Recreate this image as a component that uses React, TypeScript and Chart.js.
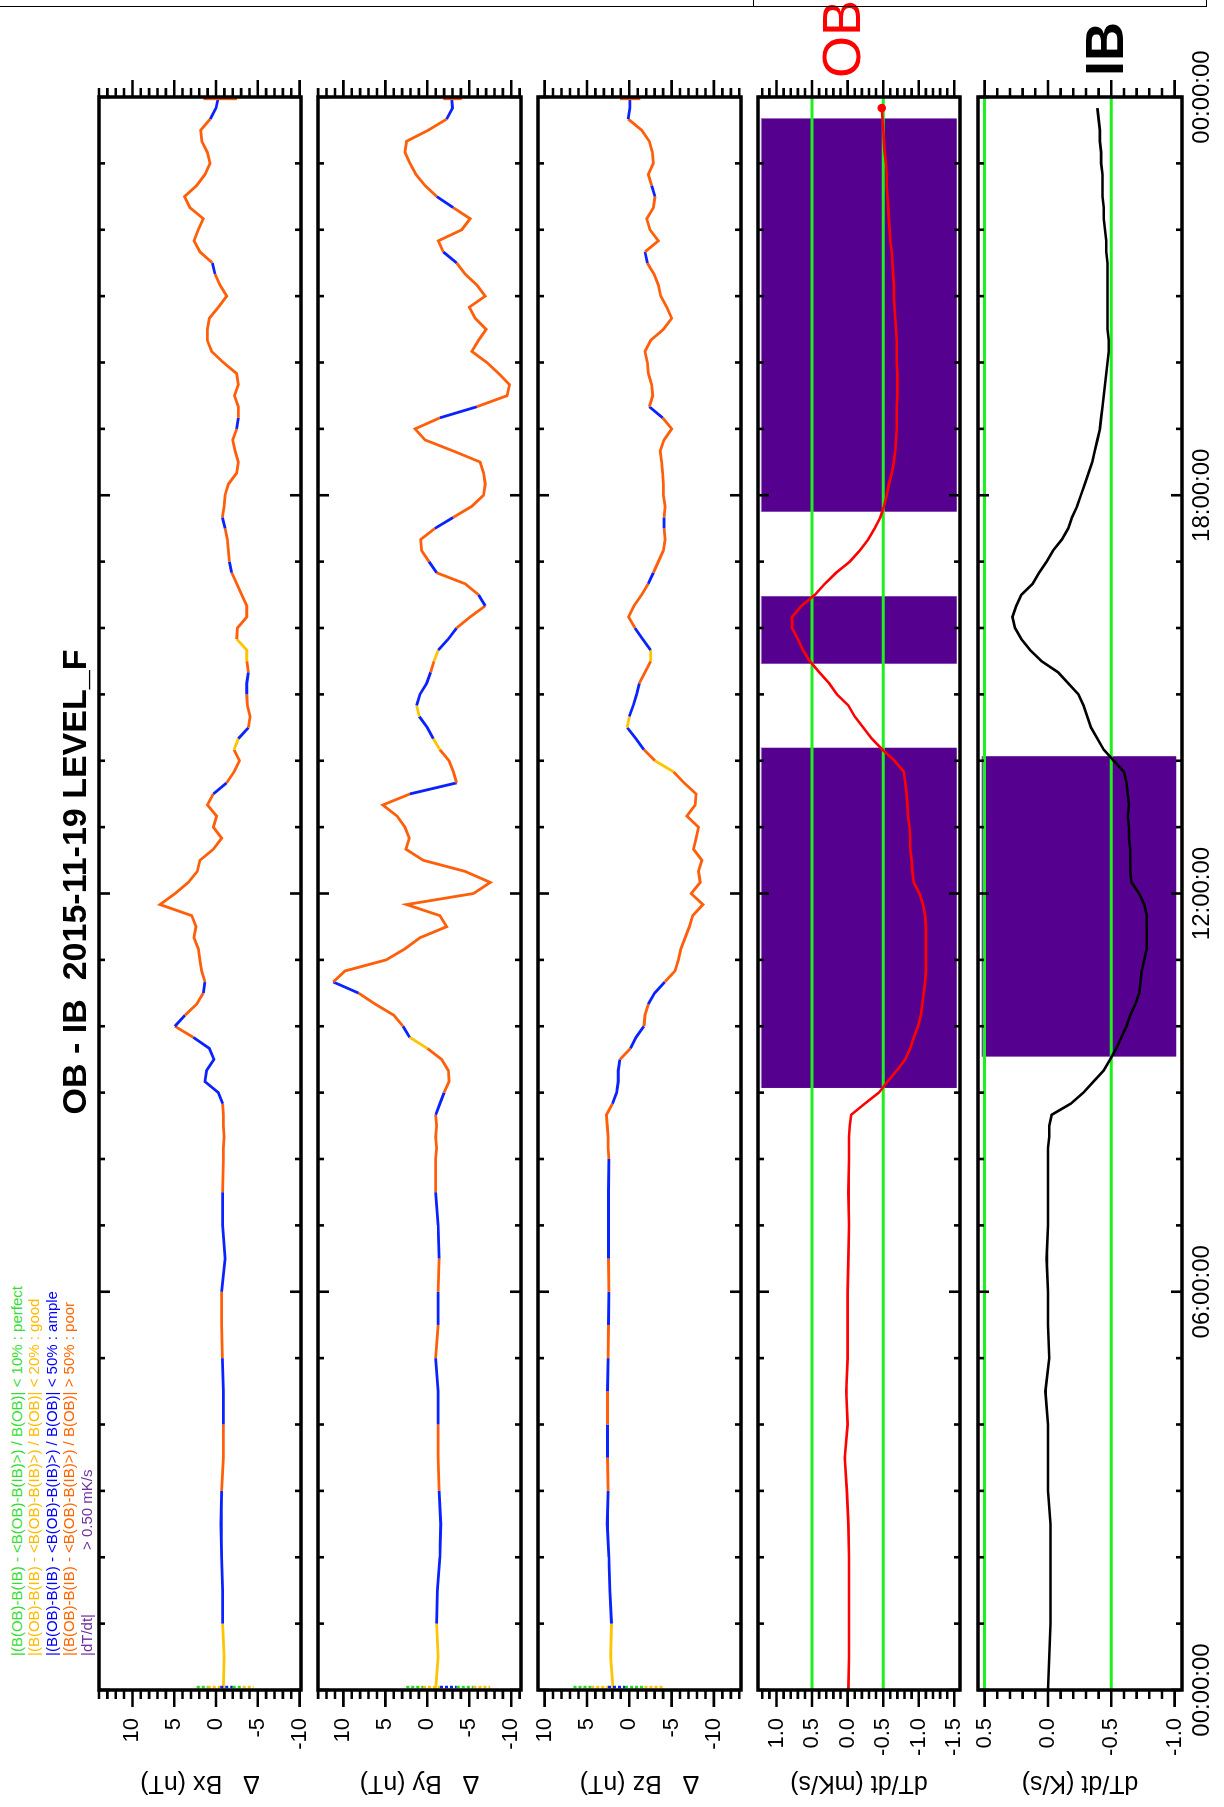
import React, { useEffect, useRef } from "react";
import { Chart, registerables } from "chart.js";
Chart.register(...registerables);

const FONT = "'Liberation Sans', Arial, Helvetica, sans-serif";
const W = 1807; // landscape width (rotated onto the page)
const H = 1224;
const PLOT_LEFT = 117;
const PLOT_RIGHT = 1710;
const PAD = 20;

// ---------------- time grid (hours): 30-min steps to 08:00, then 10-min steps ----------------
const TIMES: number[] = [];
for (let i = 0; i <= 16; i++) TIMES.push(i * 0.5);
for (let i = 1; i <= 96; i++) TIMES.push(8 + i / 6);

const TIME_LABELS = ["00:00:00", "06:00:00", "12:00:00", "18:00:00", "00:00:00"];
const TIME_LABEL_HOURS = [0, 6, 12, 18, 24];

// ---------------- series ----------------
const BX = [
  -0.88, -0.96, -0.8, -0.8, -0.68, -0.6, -0.68, -0.88, -0.88, -0.88, -0.76, -0.68, -0.68, -1.08, -0.8, -0.8, -0.88,
  -0.88, -0.96, -0.88, -0.88, -0.8, -0.28, 1.32, 1.12, 0.24, 0.8, 2.72, 4.92,
  3.72, 2.32, 1.52, 1.32, 1.72, 1.92, 2.12, 2.64, 2.4, 2.9, 6.7, 4.9,
  3.32, 2.24, 1.92, 0.32, -0.68, 0.32, -0.08, 1.04, 0.32, -1.28, -2.16, -2.8,
  -2.16, -2.68, -3.88, -4.08, -3.76, -3.68, -3.68, -3.88, -3.68, -3.68, -2.48, -2.56,
  -3.68, -3.68, -3.08, -2.48, -1.88, -1.6, -1.48, -1.36, -1.08, -0.76, -0.96, -1.08,
  -1.48, -2.48, -2.68, -2.28, -2.0, -2.48, -2.68, -2.68, -2.2, -2.68, -2.48, -0.88,
  0.52, 1.04, 1.04, 0.8, -0.28, -1.28, -0.48, 0.12, 0.44, 1.92, 2.64, 2.12,
  1.52, 3.12, 3.76, 2.32, 1.32, 0.72, 1.04, 1.7, 1.84, 0.7, 0.0, -0.28,
];
const BY = [
  -1.0, -1.3, -1.1, -1.2, -1.5, -1.6, -1.4, -1.3, -1.3, -1.3, -1.0, -1.3, -1.3, -1.4, -1.3, -1.0, -1.0,
  -1.1, -1.0, -1.1, -1.0, -1.5, -2.0, -2.6, -2.5, -1.7, 0.0, 2.1, 2.9,
  4.0, 6.2, 8.2, 11.2, 9.8, 4.9, 2.67, 0.88, -2.3, -1.5, 2.47, -5.5,
  -7.5, -4.5, 0.48, 2.55, 2.15, 2.67, 3.6, 5.3, 2.07, -3.5, -3.1, -2.6,
  -1.5, -0.7, 0.0, 0.96, 1.27, 0.88, 0.08, -0.4, -0.8, -1.3, -2.5, -3.5,
  -5.1, -6.9, -6.1, -4.5, -1.1, -0.2, 0.68, 0.8, -0.9, -3.1, -5.3, -6.7,
  -6.9, -6.7, -6.3, -3.1, 0.28, 1.47, -1.5, -5.9, -9.5, -9.8, -8.5, -7.1,
  -5.3, -6.1, -7.0, -5.7, -5.0, -6.9, -5.9, -4.5, -3.5, -1.9, -1.31, -4.1,
  -5.1, -3.1, -1.12, 0.28, 1.35, 2.07, 2.67, 2.47, -0.12, -2.3, -3.0, -2.9,
];
const BZ = [
  1.9, 2.2, 2.1, 2.3, 2.4, 2.6, 2.5, 2.57, 2.57, 2.57, 2.5, 2.45, 2.4, 2.45, 2.45, 2.45, 2.4,
  2.5, 2.5, 2.6, 2.7, 1.98, 1.5, 1.3, 1.3, 1.1, -0.16, -0.8, -1.74,
  -1.86, -2.25, -3.0, -4.2, -5.4, -5.8, -6.1, -6.6, -7.1, -7.5, -8.7, -7.3,
  -8.38, -8.18, -8.58, -7.59, -7.9, -8.18, -6.8, -7.79, -7.9, -6.48, -5.22, -3.04,
  -1.74, -0.79, 0.24, 0.0, -0.47, -0.87, -1.19, -1.86, -2.53, -2.53, -1.58, -0.67,
  0.08, -0.55, -1.46, -2.25, -2.85, -3.44, -4.03, -4.23, -4.11, -4.11, -4.23, -4.03,
  -4.03, -3.95, -3.83, -3.64, -4.11, -5.02, -3.95, -2.37, -2.77, -2.65, -2.25, -2.13,
  -1.86, -2.53, -4.03, -5.02, -4.43, -3.72, -3.44, -2.92, -2.13, -1.86, -3.44, -2.45,
  -2.06, -2.85, -3.04, -2.65, -2.25, -2.85, -2.73, -2.37, -1.46, 0.12, -0.08, -0.08,
];
const OB_DTDT = [
  -0.01, -0.02, -0.02, -0.02, -0.02, -0.01, 0.01, 0.04, 0.0, 0.02, 0.0, 0.0, 0.0, -0.01, -0.02, -0.01, -0.02,
  -0.02, -0.02, -0.03, -0.05, -0.24, -0.44, -0.56, -0.69, -0.81, -0.88, -0.93, -0.99,
  -1.03, -1.05, -1.07, -1.09, -1.1, -1.1, -1.1, -1.1, -1.1, -1.09, -1.06, -1.01,
  -0.93, -0.91, -0.9, -0.88, -0.88, -0.87, -0.85, -0.84, -0.83, -0.81, -0.79, -0.66,
  -0.49, -0.34, -0.22, -0.1, -0.01, 0.15, 0.26, 0.4, 0.53, 0.63, 0.7, 0.78,
  0.78, 0.65, 0.46, 0.32, 0.16, -0.03, -0.17, -0.29, -0.38, -0.46, -0.51, -0.55,
  -0.58, -0.62, -0.65, -0.67, -0.68, -0.69, -0.69, -0.69, -0.7, -0.7, -0.7, -0.69,
  -0.69, -0.69, -0.68, -0.67, -0.66, -0.65, -0.65, -0.64, -0.63, -0.62, -0.6, -0.59,
  -0.58, -0.57, -0.56, -0.55, -0.55, -0.54, -0.52, -0.51, -0.5, -0.49, -0.48, null,
];
const IB_DTDT = [
  0.0, -0.01, -0.02, -0.02, -0.02, -0.02, 0.0, 0.0, 0.0, 0.02, -0.01, 0.0, 0.0, 0.01, 0.0, 0.0, 0.0,
  0.0, -0.01, -0.01, -0.03, -0.18, -0.28, -0.36, -0.44, -0.49, -0.54, -0.58, -0.62,
  -0.65, -0.69, -0.72, -0.73, -0.74, -0.76, -0.78, -0.78, -0.78, -0.78, -0.76, -0.72,
  -0.66, -0.65, -0.65, -0.65, -0.64, -0.64, -0.63, -0.64, -0.63, -0.62, -0.6, -0.52,
  -0.44, -0.39, -0.34, -0.31, -0.28, -0.24, -0.16, -0.08, 0.05, 0.14, 0.21, 0.26,
  0.28, 0.25, 0.21, 0.12, 0.07, 0.01, -0.04, -0.11, -0.16, -0.19, -0.23, -0.26,
  -0.29, -0.32, -0.35, -0.37, -0.39, -0.41, -0.42, -0.43, -0.44, -0.45, -0.46, -0.47,
  -0.48, -0.48, -0.47, -0.47, -0.47, -0.47, -0.47, -0.47, -0.47, -0.46, -0.46, -0.45,
  -0.44, -0.44, -0.43, -0.43, -0.43, -0.42, -0.42, -0.41, -0.41, -0.4, -0.39, null,
];

// spread of first / last samples at the day edges
const BX_START = [2.3, 1.0, -0.5, -2.0, -3.2, -4.5];
const BY_START = [2.5, 0.5, -1.5, -3.5, -5.5, -7.5];
const BZ_START = [6.6, 4.5, 2.5, 0.5, -1.8, -4.0];
const START_Q = ["g", "y", "b", "g", "y"];
const BX_END = [1.5, -2.5];
const BY_END = [-1.9, -4.1];
const BZ_END = [1.1, -1.3];

// quality intervals [start h, end h, code]; everything else is "poor" (orange)
const BX_Q: [number, number, string][] = [
  [0, 1, "y"], [1, 3, "b"], [4, 5, "b"], [6, 7, "b"], [7, 7.17, "y"], [7.17, 7.5, "b"], [8.83, 9.83, "b"],
  [10, 10.17, "b"], [10.5, 10.67, "b"], [13.5, 13.67, "b"], [14.17, 14.33, "y"], [14.33, 14.5, "b"],
  [15, 15.33, "b"], [15.5, 15.83, "y"], [16.83, 17, "b"], [17.5, 17.67, "b"], [19, 19.17, "b"],
  [21.33, 21.5, "b"], [23.67, 24, "b"],
];
const BY_Q: [number, number, string][] = [
  [0.25, 0.83, "y"], [0.83, 2.3, "b"], [2.7, 3, "b"], [4, 5, "b"], [5.5, 6, "b"], [6.5, 7, "b"], [7, 7.17, "y"],
  [7.17, 7.5, "b"], [8.67, 9, "b"], [9.67, 9.83, "y"], [9.83, 10, "b"], [10.5, 10.67, "b"], [13.5, 13.67, "b"],
  [14.17, 14.33, "y"], [14.33, 14.67, "b"], [14.67, 14.83, "y"], [14.83, 15.33, "b"], [15.5, 15.67, "y"],
  [15.67, 16, "b"], [16.33, 16.5, "b"], [16.83, 17, "b"], [17.5, 17.67, "b"], [19.17, 19.33, "b"],
  [21.5, 21.67, "b"], [22.33, 22.5, "b"], [23.67, 24, "b"],
];
const BZ_Q: [number, number, string][] = [
  [0.25, 0.83, "y"], [0.83, 2.4, "b"], [2.7, 3, "b"], [3.5, 4, "b"], [4.5, 5, "b"], [5.5, 6, "b"], [6.5, 7, "b"],
  [7, 7.17, "y"], [7.17, 8, "b"], [8.83, 9.5, "b"], [9.67, 10, "b"], [10.33, 10.67, "b"], [13.83, 14, "y"],
  [14.17, 14.5, "b"], [14.5, 14.67, "y"], [14.67, 15.17, "b"], [15.5, 15.67, "y"], [15.67, 16, "b"],
  [16.67, 16.83, "b"], [17.5, 17.67, "b"], [19.17, 19.33, "b"], [21.5, 21.67, "b"], [22.5, 22.67, "b"],
  [23.67, 24, "b"],
];

// |dT/dt| > threshold intervals (hours)
const OB_ALARM = [[9.07, 14.2], [15.46, 16.48], [17.75, 23.68]];
const IB_ALARM = [[9.54, 14.07]];
const OB_THRESH = [0.5, -0.5];
const IB_THRESH = [0.5, -0.5];

const QCOL: Record<string, string> = { g: "#22dd22", y: "#ffc400", b: "#0a22ff", o: "#ff5f0a" };
const PURPLE = "#560090";

const qualityAt = (q: [number, number, string][], t: number) => {
  for (const [a, b, c] of q) if (t >= a && t < b) return c;
  return "o";
};

type Spec = {
  key: string;
  top: number;
  height: number;
  min: number;
  max: number;
  major: number[];
  labels: string[];
  minor: number[];
  title: string;
  showTime: boolean;
  datasets: any[];
};

const range = (a: number, b: number, step: number) => {
  const out: number[] = [];
  const n = Math.round((b - a) / step);
  for (let i = 0; i <= n; i++) out.push(Math.round((a + i * step) * 1000) / 1000);
  return out;
};

const pts = (vals: (number | null)[]) => TIMES.map((t, i) => ({ x: t, y: vals[i] }));

const bDatasets = (vals: number[], q: [number, number, string][], start: number[], end: number[]) => [
  {
    data: pts(vals),
    borderWidth: 2.8,
    borderColor: QCOL.o,
    pointRadius: 0,
    order: 1,
    segment: {
      borderColor: (c: any) => QCOL[qualityAt(q, (c.p0.parsed.x + c.p1.parsed.x) / 2)],
    },
  },
  {
    data: start.map((v) => ({ x: 0.045, y: v })),
    borderWidth: 2.5,
    borderColor: QCOL.y,
    borderDash: [3, 2],
    pointRadius: 0,
    order: 0,
    segment: { borderColor: (c: any) => QCOL[START_Q[c.p0DataIndex % START_Q.length]] },
  },
  {
    data: end.map((v) => ({ x: 23.975, y: v })),
    borderWidth: 3,
    borderColor: QCOL.o,
    pointRadius: 0,
    order: 0,
  },
];

const alarmDatasets = (alarm: number[][], top: number, bottom: number) =>
  alarm.map(([a, b]) => ({
    data: [{ x: a, y: top }, { x: b, y: top }],
    borderWidth: 1,
    borderColor: "#9a78c8",
    backgroundColor: PURPLE,
    fill: { value: bottom },
    pointRadius: 0,
    order: 6,
  }));

const threshDatasets = (th: number[]) =>
  th.map((v) => ({
    data: [{ x: 0, y: v }, { x: 24, y: v }],
    borderWidth: 3,
    borderColor: "#1ef01e",
    pointRadius: 0,
    order: 3,
  }));

const lastIdx = (arr: (number | null)[]) => {
  for (let i = arr.length - 1; i >= 0; i--) if (arr[i] !== null) return i;
  return -1;
};

const B_MAJOR = [10, 5, 0, -5, -10];
const B_LABELS = ["10", "5", "0", "-5", "-10"];

const SPECS: Spec[] = [
  {
    key: "bx", top: 99, height: 202, min: -10.17, max: 14.0,
    major: B_MAJOR, labels: B_LABELS, minor: range(-10, 14, 1),
    title: "\u0394   Bx (nT)", showTime: false,
    datasets: bDatasets(BX, BX_Q, BX_START, BX_END),
  },
  {
    key: "by", top: 318, height: 203, min: -11.16, max: 13.02,
    major: B_MAJOR, labels: B_LABELS, minor: range(-11, 13, 1),
    title: "\u0394   By (nT)", showTime: false,
    datasets: bDatasets(BY, BY_Q, BY_START, BY_END),
  },
  {
    key: "bz", top: 538, height: 203, min: -13.2, max: 10.78,
    major: B_MAJOR, labels: B_LABELS, minor: range(-13, 10, 1),
    title: "\u0394   Bz (nT)", showTime: false,
    datasets: bDatasets(BZ, BZ_Q, BZ_START, BZ_END),
  },
  {
    key: "ob", top: 758, height: 202, min: -1.58, max: 1.26,
    major: [1.0, 0.5, 0.0, -0.5, -1.0, -1.5], labels: ["1.0", "0.5", "0.0", "-0.5", "-1.0", "-1.5"],
    minor: range(-1.5, 1.2, 0.1),
    title: "dT/dt (mK/s)", showTime: false,
    datasets: [
      {
        data: pts(OB_DTDT),
        borderWidth: 2.6,
        borderColor: "#ff0000",
        backgroundColor: "#ff0000",
        pointRadius: (c: any) => (c.dataIndex === lastIdx(OB_DTDT) ? 3 : 0),
        order: 1,
      },
      ...threshDatasets(OB_THRESH),
      ...alarmDatasets(OB_ALARM, 1.213, -1.534),
    ],
  },
  {
    key: "ib", top: 978, height: 204, min: -1.058, max: 0.552,
    major: [0.5, 0.0, -0.5, -1.0], labels: ["0.5", "0.0", "-0.5", "-1.0"],
    minor: range(-1.0, 0.5, 0.1),
    title: "dT/dt (K/s)", showTime: true,
    datasets: [
      {
        data: pts(IB_DTDT),
        borderWidth: 2.6,
        borderColor: "#000000",
        pointRadius: 0,
        order: 1,
      },
      ...threshDatasets(IB_THRESH),
      ...alarmDatasets(IB_ALARM, 0.52, -1.013),
    ],
  },
];

const XAXIS_H = 44;

const framePlugin = (p: Spec) => ({
  id: "frame_" + p.key,
  afterDatasetsDraw(chart: any) {
    const { ctx, chartArea: a, scales } = chart;
    const xs = scales.x;
    const ys = scales.y;
    ctx.save();
    ctx.strokeStyle = "#000";
    ctx.lineCap = "butt";
    ctx.lineWidth = 2.6;
    for (let h = 0; h <= 24; h++) {
      const px = xs.getPixelForValue(h);
      const len = h % 6 === 0 ? 11 : 6;
      ctx.beginPath();
      ctx.moveTo(px, a.top);
      ctx.lineTo(px, a.top + len);
      ctx.moveTo(px, a.bottom);
      ctx.lineTo(px, a.bottom - len);
      ctx.stroke();
    }
    for (const v of p.minor) {
      const py = ys.getPixelForValue(v);
      const major = p.major.some((m) => Math.abs(m - v) < 1e-6);
      const len = major ? 17 : 9;
      ctx.beginPath();
      ctx.moveTo(a.left, py);
      ctx.lineTo(a.left - len, py);
      ctx.moveTo(a.right, py);
      ctx.lineTo(a.right + len, py);
      ctx.stroke();
    }
    ctx.lineWidth = 3.5;
    ctx.strokeRect(a.left, a.top, a.right - a.left, a.bottom - a.top);
    ctx.restore();
  },
});

function Panel({ p }: { p: Spec }) {
  const ref = useRef<HTMLCanvasElement>(null);
  const ch = p.height + 2 * PAD + (p.showTime ? XAXIS_H : 0);
  useEffect(() => {
    if (!ref.current) return;
    const chart = new Chart(ref.current, {
      type: "line",
      data: { datasets: p.datasets },
      options: {
        animation: false,
        responsive: false,
        maintainAspectRatio: false,
        devicePixelRatio: 1,
        layout: { padding: { left: 0, right: W - PLOT_RIGHT, top: PAD, bottom: PAD } },
        plugins: { legend: { display: false }, tooltip: { enabled: false }, title: { display: false } },
        elements: { line: { tension: 0 }, point: { radius: 0 } },
        scales: {
          x: {
            type: "linear",
            min: 0,
            max: 24,
            display: p.showTime,
            position: "bottom",
            grid: { display: false, drawTicks: false },
            border: { display: false },
            afterBuildTicks: (s: any) => {
              s.ticks = TIME_LABEL_HOURS.map((v) => ({ value: v }));
            },
            afterFit: (s: any) => {
              s.height = p.showTime ? XAXIS_H : 0;
              s.paddingLeft = 0;
              s.paddingRight = 0;
              s.paddingTop = 0;
              s.paddingBottom = 0;
            },
            ticks: {
              autoSkip: false,
              maxRotation: 0,
              padding: 6,
              color: "#000",
              font: { family: FONT, size: 24 },
              callback: (v: any) => TIME_LABELS[TIME_LABEL_HOURS.indexOf(Number(v))],
            },
          },
          y: {
            type: "linear",
            min: p.min,
            max: p.max,
            grid: { display: false, drawTicks: false },
            border: { display: false },
            afterBuildTicks: (s: any) => {
              s.ticks = p.major.map((v) => ({ value: v }));
            },
            afterFit: (s: any) => {
              s.width = PLOT_LEFT;
              s.paddingTop = 0;
              s.paddingBottom = 0;
              s.paddingLeft = 0;
              s.paddingRight = 0;
            },
            ticks: {
              autoSkip: false,
              padding: 28,
              color: "#000",
              font: { family: FONT, size: 22 },
              callback: (v: any) => p.labels[p.major.findIndex((m) => Math.abs(m - Number(v)) < 1e-6)],
            },
            title: {
              display: true,
              text: p.title,
              color: "#000",
              font: { family: FONT, size: 25 },
              padding: { top: 9, bottom: 0 },
            },
          },
        },
      },
      plugins: [framePlugin(p)],
    } as any);
    return () => chart.destroy();
  }, []);
  return (
    <canvas
      ref={ref}
      width={W}
      height={ch}
      style={{ position: "absolute", left: 0, top: p.top - PAD, width: W, height: ch }}
    />
  );
}

const LEGEND = [
  { text: "|(B(OB)-B(IB) - <B(OB)-B(IB)>) / B(OB)| < 10% : perfect", color: "#33dd33" },
  { text: "|(B(OB)-B(IB) - <B(OB)-B(IB)>) / B(OB)| < 20% : good", color: "#ffbb00" },
  { text: "|(B(OB)-B(IB) - <B(OB)-B(IB)>) / B(OB)| < 50% : ample", color: "#0000ff" },
  { text: "|(B(OB)-B(IB) - <B(OB)-B(IB)>) / B(OB)| > 50% : poor", color: "#ff6600" },
];
const LEGEND_TOPS = [9, 26, 44, 61, 79];

export default function App() {
  return (
    <div
      style={{
        position: "absolute",
        left: 0,
        top: 0,
        width: 1224,
        height: 1807,
        overflow: "hidden",
        background: "#fff",
      }}
    >
      <div
        style={{
          position: "absolute",
          left: 0,
          top: 0,
          width: W,
          height: H,
          transformOrigin: "0 0",
          transform: "translateY(1807px) rotate(-90deg)",
          fontFamily: FONT,
        }}
      >
        {SPECS.map((p) => (
          <Panel key={p.key} p={p} />
        ))}
        {LEGEND.map((l, i) => (
          <div
            key={i}
            style={{
              position: "absolute",
              left: 151,
              top: LEGEND_TOPS[i],
              fontSize: 15,
              lineHeight: "15px",
              color: l.color,
              whiteSpace: "pre",
            }}
          >
            {l.text}
          </div>
        ))}
        <div style={{ position: "absolute", left: 151, top: LEGEND_TOPS[4], fontSize: 15, lineHeight: "15px", color: "#7030a0", whiteSpace: "pre" }}>
          |dT/dt|
        </div>
        <div style={{ position: "absolute", left: 257, top: LEGEND_TOPS[4], fontSize: 15, lineHeight: "15px", color: "#7030a0", whiteSpace: "pre" }}>
          {"> 0.50 mK/s"}
        </div>
        <div
          style={{
            position: "absolute",
            left: 625,
            top: 57,
            width: 600,
            textAlign: "center",
            fontSize: 34,
            lineHeight: "34px",
            fontWeight: "bold",
            whiteSpace: "pre",
            color: "#000",
          }}
        >
          {"OB - IB  2015-11-19 LEVEL_F"}
        </div>
        <div style={{ position: "absolute", left: 1729, top: 814, fontSize: 54, lineHeight: "54px", color: "#ff0000" }}>OB</div>
        <div style={{ position: "absolute", left: 1731, top: 1077, fontSize: 54, lineHeight: "54px", fontWeight: "bold", color: "#000" }}>IB</div>
        <div style={{ position: "absolute", left: 1800, top: 0, width: 1, height: 1207, background: "#000" }} />
        <div style={{ position: "absolute", left: 1800, top: 753, width: 7, height: 1, background: "#000" }} />
        <div style={{ position: "absolute", left: 1800, top: 1206, width: 7, height: 1, background: "#000" }} />
      </div>
    </div>
  );
}
